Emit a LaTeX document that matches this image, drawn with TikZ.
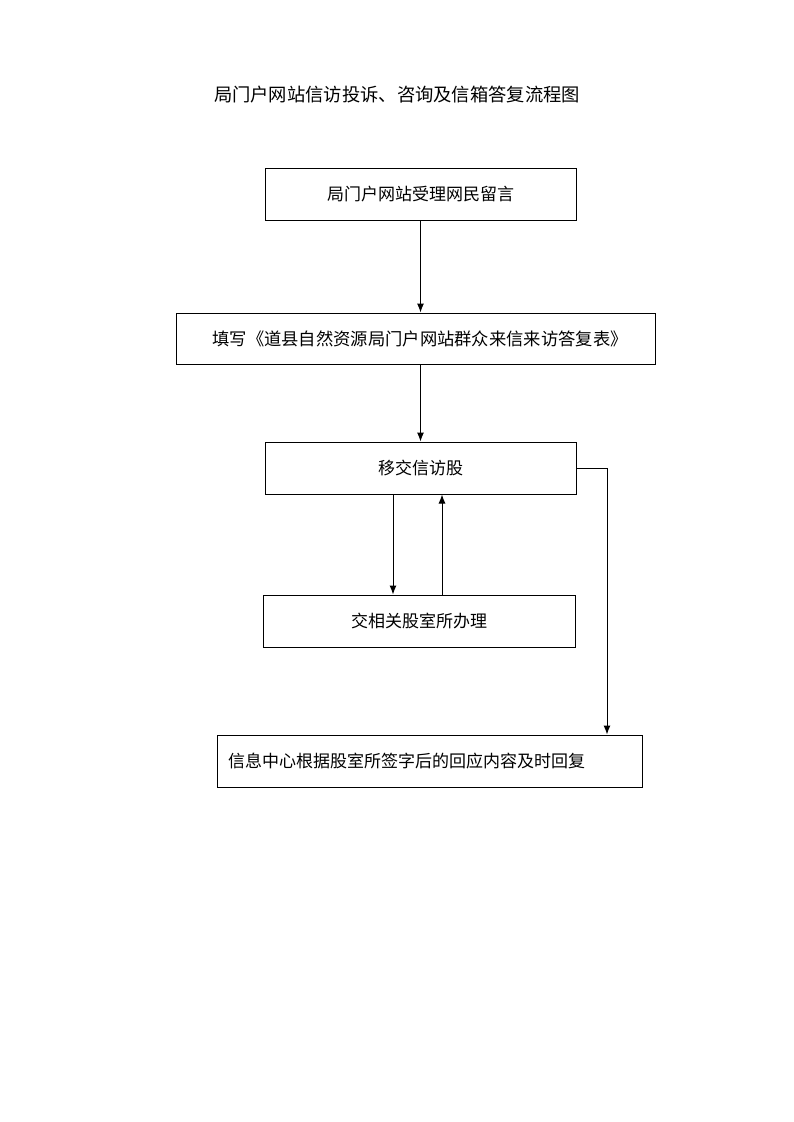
\documentclass[tikz,border=0pt]{standalone}
\usepackage{fontspec}
\setmainfont{Noto Sans CJK SC}
\usetikzlibrary{arrows.meta}
\begin{document}
\begin{tikzpicture}[x=1pt,y=-1pt,
  box/.style={draw,line width=1pt,minimum height=52pt,inner sep=0pt,font=\fontsize{17}{20}\selectfont},
  arr/.style={line width=1pt,-{Latex[length=9pt,width=7pt]}},
  conn/.style={line width=1pt}]
\useasboundingbox (0,0) rectangle (793,1122);
\fill[white] (0,0) rectangle (793,1122);
\node[font=\fontsize{18.3}{20}\selectfont] (title) at (397,95) {局门户网站信访投诉、咨询及信箱答复流程图};
\node[box,minimum width=311pt] (b1) at (420.5,194) {局门户网站受理网民留言};
\node[box,minimum width=479pt,minimum height=51pt,font=\fontsize{17.3}{20}\selectfont] (b2) at (415.5,338.5) {\hspace*{9pt}填写《道县自然资源局门户网站群众来信来访答复表》};
\node[box,minimum width=311pt] (b3) at (420.5,468) {移交信访股};
\node[box,minimum width=312pt] (b4) at (419,621) {交相关股室所办理};
\node[box,minimum width=425pt,text width=403pt,align=left,inner xsep=11pt] (b5) at (429.5,761) {信息中心根据股室所签字后的回应内容及时回复};
\coordinate (xa) at (393,0);
\coordinate (xb) at (442,0);
\coordinate (xr) at (607,0);
\draw[arr] (b1.south) -- (b1.south |- b2.north);
\draw[arr] (b3.north |- b2.south) -- (b3.north);
\draw[arr] (b3.south -| xa) -- (b4.north -| xa);
\draw[arr] (b4.north -| xb) -- (b3.south -| xb);
\draw[arr] (b3.east) -| (b5.north -| xr);
\end{tikzpicture}
\end{document}
